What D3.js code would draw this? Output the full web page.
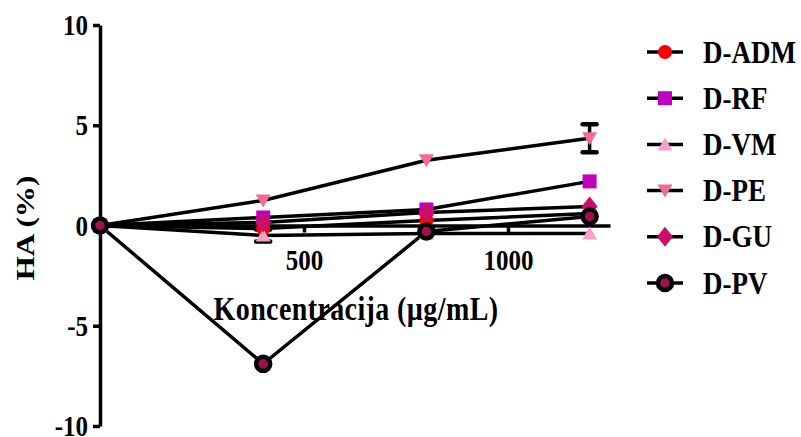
<!DOCTYPE html>
<html>
<head>
<meta charset="utf-8">
<script src="https://cdn.jsdelivr.net/npm/d3@7"></script>
<style>
  body { margin: 0; background: #fff; }
  text { font-family: "Liberation Serif", "Times New Roman", serif; font-weight: bold; }
</style>
</head>
<body>
<div id="chart"></div>
<script>
// concentrations (ug/mL) and HA (%) per extract
var conc = [0, 400, 800, 1200];
var names = ["D-ADM", "D-RF", "D-VM", "D-PE", "D-GU", "D-PV"];
var adm = [0, -0.15, 0.25, 0.6];
var rf = [0, 0.4, 0.8, 2.2];
var vm = [0, -0.5, -0.4, -0.4];
var pe = [0, 1.25, 3.25, 4.35];
var gu = [0, 0.15, 0.65, 0.95];
var pv = [0, -6.9, -0.3, 0.45];
var peErr = [0, 0, 0, 0.7];
var vmErr = [0, 0.3, 0, 0];
var yTicks = [-10, -5, 0, 5, 10];
var xTicks = [500, 1000];

var w = 801, h = 437;
var stretch = 1.2;

var svg = d3.select("#chart").append("svg")
	.attr("width", w)
	.attr("height", h);

var x = d3.scaleLinear().domain([0, 1250]).range([100, 610]);
var y = d3.scaleLinear().domain([-10, 10]).range([426, 25]);

var series = [
	{name: names[0], vals: adm, err: null, shape: "circle", fill: "#ff0000"},
	{name: names[1], vals: rf, err: null, shape: "square", fill: "#bf00bf"},
	{name: names[2], vals: vm, err: vmErr, shape: "up", fill: "#f7a1c9"},
	{name: names[3], vals: pe, err: peErr, shape: "down", fill: "#f26a97"},
	{name: names[4], vals: gu, err: null, shape: "diamond", fill: "#cc0e6b"},
	{name: names[5], vals: pv, err: null, shape: "ring", fill: "#a0104e"}
];

// marker shapes, centred on their box
function marker(g, shape, fill) {
	if (shape == "circle") {
		g.append("circle").attr("r", 7).attr("fill", fill);
	} else if (shape == "square") {
		g.append("rect").attr("x", -7).attr("y", -7).attr("width", 14).attr("height", 14).attr("fill", fill);
	} else if (shape == "up") {
		g.append("path").attr("d", "M0,-7L7.5,6L-7.5,6Z").attr("fill", fill);
	} else if (shape == "down") {
		g.append("path").attr("d", "M0,7L7.5,-6L-7.5,-6Z").attr("fill", fill);
	} else if (shape == "diamond") {
		g.append("path").attr("d", "M0,-10L8,0L0,10L-8,0Z").attr("fill", fill);
	} else {
		g.append("circle").attr("r", 7).attr("fill", fill)
			.attr("stroke", "black").attr("stroke-width", 4.5);
	}
}

// axes (plain hyphen minus, no thousands comma)
var fmt = function(d) { return String(d); };
var xAxis = d3.axisBottom(x).tickValues(xTicks).tickFormat(fmt).tickSize(7).tickSizeOuter(0).tickPadding(12);
var yAxis = d3.axisLeft(y).tickValues(yTicks).tickFormat(fmt).tickSize(7).tickSizeOuter(0).tickPadding(5);

var xg = svg.append("g")
	.attr("transform", "translate(0," + y(0) + ")")
	.call(xAxis);
var yg = svg.append("g")
	.attr("transform", "translate(" + x(0) + ",0)")
	.call(yAxis);

[xg, yg].forEach(function(g) {
	g.select(".domain").attr("stroke", "black").attr("stroke-width", 3.5);
	g.selectAll(".tick line").attr("stroke", "black").attr("stroke-width", 3.5);
	g.selectAll(".tick text")
		.attr("font-family", "Liberation Serif")
		.attr("font-weight", "bold")
		.attr("font-size", 25)
		.attr("fill", "black")
		.attr("transform", "scale(1," + stretch + ")");
});

// lines
var line = d3.line()
	.x(function(d, i) { return x(conc[i]); })
	.y(function(d) { return y(d); });

var plot = svg.append("g");
series.forEach(function(s) {
	plot.append("path")
		.attr("d", line(s.vals))
		.attr("fill", "none")
		.attr("stroke", "black")
		.attr("stroke-width", 3.5);
});

// error bars
series.forEach(function(s) {
	if (!s.err) return;
	s.vals.forEach(function(v, i) {
		var e = s.err[i];
		if (!e) return;
		var cx = x(conc[i]);
		plot.append("line")
			.attr("x1", cx).attr("x2", cx)
			.attr("y1", y(v + e)).attr("y2", y(v - e))
			.attr("stroke", "black").attr("stroke-width", 3.5);
		[v + e, v - e].forEach(function(c) {
			plot.append("line")
				.attr("x1", cx - 7).attr("x2", cx + 7)
				.attr("y1", y(c)).attr("y2", y(c))
				.attr("stroke", "black").attr("stroke-width", 4.5)
				.attr("stroke-linecap", "round");
		});
	});
});

// markers
series.forEach(function(s) {
	s.vals.forEach(function(v, i) {
		var g = plot.append("g")
			.attr("transform", "translate(" + x(conc[i]) + "," + y(v) + ")");
		marker(g, s.shape, s.fill);
	});
});

// axis titles
svg.append("g")
	.attr("transform", "translate(356,320) scale(1," + stretch + ")")
	.append("text")
	.attr("text-anchor", "middle")
	.attr("font-size", 28)
	.attr("letter-spacing", 0.4)
	.text("Koncentracija (µg/mL)");

svg.append("g")
	.attr("transform", "translate(34,228) rotate(-90) scale(1.25,1)")
	.append("text")
	.attr("text-anchor", "middle")
	.attr("font-size", 25)
	.text("HA (%)");

// legend
var legend = svg.append("g");
series.forEach(function(s, i) {
	var cy = 52 + i * 46.2;
	var row = legend.append("g").attr("transform", "translate(0," + cy + ")");
	row.append("line")
		.attr("x1", 647).attr("x2", 683)
		.attr("stroke", "black").attr("stroke-width", 3.5);
	marker(row.append("g").attr("transform", "translate(665,0)"), s.shape, s.fill);
	row.append("g")
		.attr("transform", "translate(703,0) scale(1," + stretch + ")")
		.append("text")
		.attr("dy", "0.33em")
		.attr("font-size", 27)
		.text(s.name);
});
</script>
</body>
</html>
